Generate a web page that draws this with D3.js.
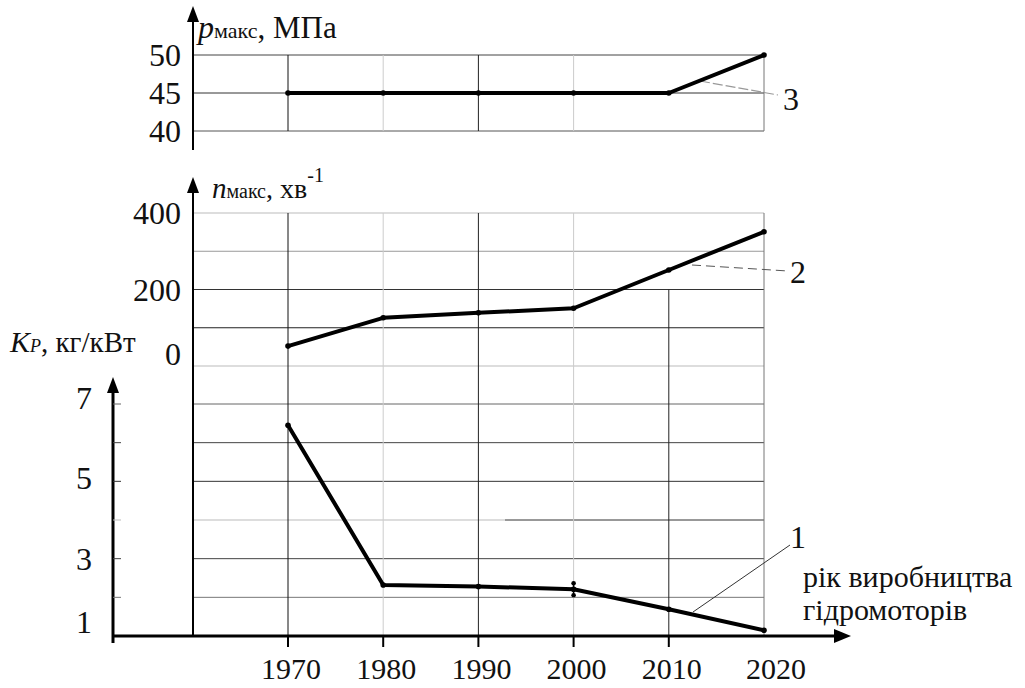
<!DOCTYPE html>
<html>
<head>
<meta charset="utf-8">
<script src="https://cdn.jsdelivr.net/npm/d3@7/dist/d3.min.js"></script>
<style>
  html, body { margin: 0; padding: 0; background: #fff; }
</style>
</head>
<body>
<svg id="chart" width="1025" height="688" font-family="'Liberation Serif', 'DejaVu Serif', serif"></svg>
<script>
// ---- data ----
const years = [1970, 1980, 1990, 2000, 2010, 2020];
const pValues = [45, 45, 45, 45, 45, 50];          // curve 3, p_max, MPa
const nValues = [52, 126, 139, 151, 251, 351];     // curve 2, n_max, min^-1
const kpValues = [6.45, 2.32, 2.28, 2.21, 1.69, 1.15]; // curve 1, Kp, kg/kW
const pTicks = [40, 45, 50];
const nTicks = [0, 200, 400];
const kpTicks = [1, 3, 5, 7];
const xTickLabels = ["1970", "1980", "1990", "2000", "2010", "2020"];
const pGrid = [40, 45, 50];
const nGrid = [0, 100, 200, 300, 400];
const kpGrid = [2, 3, 4, 5, 6, 7];

// ---- layout ----
const FONT = "Liberation Serif";
const svg = d3.select("#chart");
const axisX = 193, kpAxisX = 113, plotRight = 764, baseY = 636;

const x = d3.scaleLinear().domain([1970, 2020]).range([288, 764]);
const yP = d3.scaleLinear().domain([40, 50]).range([131, 55]);
const yN = d3.scaleLinear().domain([0, 400]).range([366, 213]);
const yK = d3.scaleLinear().domain([1, 7]).range([636, 404]);

// grid styles
const pGridColor = {40: "#555", 45: "#333", 50: "#444"};
const nGridColor = {0: "#bbb", 100: "#222", 200: "#333", 300: "#999", 400: "#bbb"};
const kGridColor = {2: "#777", 3: "#444", 4: "#bbb", 5: "#333", 6: "#444", 7: "#666"};
const vColor = {1970: "#111", 1980: "#ccc", 1990: "#222", 2000: "#ccc", 2010: "#222", 2020: "#777"};

const g = svg.append("g");

// top panel horizontal grid
g.selectAll(".pg").data(pGrid).join("line")
  .attr("x1", axisX).attr("x2", plotRight)
  .attr("y1", d => yP(d)).attr("y2", d => yP(d))
  .attr("stroke", d => pGridColor[d]).attr("stroke-width", 1);
// top panel vertical grid
g.selectAll(".pv").data(years.filter(d => d !== 2010)).join("line")
  .attr("x1", d => x(d)).attr("x2", d => x(d))
  .attr("y1", yP(50)).attr("y2", yP(40))
  .attr("stroke", d => vColor[d]).attr("stroke-width", 1);

// middle + bottom horizontal grid
g.selectAll(".ng").data(nGrid).join("line")
  .attr("x1", axisX).attr("x2", plotRight)
  .attr("y1", d => yN(d)).attr("y2", d => yN(d))
  .attr("stroke", d => nGridColor[d]).attr("stroke-width", 1);
g.selectAll(".kg").data(kpGrid).join("line")
  .attr("x1", axisX).attr("x2", plotRight)
  .attr("y1", d => yK(d)).attr("y2", d => yK(d))
  .attr("stroke", d => kGridColor[d]).attr("stroke-width", 1);
// darker part of the "4" gridline
g.append("line").attr("x1", 505).attr("x2", plotRight)
  .attr("y1", yK(4)).attr("y2", yK(4)).attr("stroke", "#555");

// middle + bottom vertical grid
g.selectAll(".nv").data(years).join("line")
  .attr("x1", d => x(d)).attr("x2", d => x(d))
  .attr("y1", d => d === 2010 ? yN(200) : yN(400)).attr("y2", baseY)
  .attr("stroke", d => vColor[d]).attr("stroke-width", 1);

// ---- axes ----
function arrowUp(cx, tipY) {
  svg.append("path")
    .attr("d", `M${cx},${tipY} L${cx - 6},${tipY + 16} L${cx + 6},${tipY + 16} Z`)
    .attr("fill", "#000");
}
// top y-axis
svg.append("line").attr("x1", axisX).attr("x2", axisX).attr("y1", 14).attr("y2", 150)
  .attr("stroke", "#000").attr("stroke-width", 2);
arrowUp(axisX, 6);
// middle y-axis
svg.append("line").attr("x1", axisX).attr("x2", axisX).attr("y1", 188).attr("y2", baseY)
  .attr("stroke", "#000").attr("stroke-width", 2);
arrowUp(axisX, 177);
// Kp y-axis
svg.append("line").attr("x1", kpAxisX).attr("x2", kpAxisX).attr("y1", 388).attr("y2", 643)
  .attr("stroke", "#000").attr("stroke-width", 3);
arrowUp(kpAxisX, 377);
// Kp small ticks
svg.selectAll(".kt").data(kpGrid).join("line")
  .attr("x1", kpAxisX).attr("x2", kpAxisX + 8)
  .attr("y1", d => yK(d)).attr("y2", d => yK(d))
  .attr("stroke", d => kGridColor[d]).attr("stroke-width", 1);

// x-axis
svg.append("line").attr("x1", kpAxisX).attr("x2", 836).attr("y1", baseY).attr("y2", baseY)
  .attr("stroke", "#000").attr("stroke-width", 3);
svg.append("path")
  .attr("d", `M851,${baseY} L834,${baseY - 7} L834,${baseY + 7} Z`).attr("fill", "#000");
svg.selectAll(".xt").data(years.filter(d => d < 2020)).join("line")
  .attr("x1", d => x(d)).attr("x2", d => x(d))
  .attr("y1", baseY).attr("y2", baseY + 11)
  .attr("stroke", "#000").attr("stroke-width", 2);

function txt(sel) {
  return sel.attr("font-family", FONT).attr("fill", "#111");
}
txt(svg.selectAll(".xl").data(xTickLabels).join("text"))
  .attr("x", (d, i) => x(years[i]) + (i === 5 ? 12 : 3))
  .attr("y", 679)
  .attr("text-anchor", "middle")
  .attr("font-size", 30)
  .text(d => d);

// y tick labels
txt(svg.selectAll(".pl").data(pTicks).join("text"))
  .attr("x", 181).attr("y", d => yP(d) + 11)
  .attr("text-anchor", "end").attr("font-size", 32).text(d => d);
txt(svg.selectAll(".nl").data(nTicks).join("text"))
  .attr("x", 181).attr("y", d => d === 0 ? yN(d) - 1 : yN(d) + 11)
  .attr("text-anchor", "end").attr("font-size", 32).text(d => d);
txt(svg.selectAll(".kl").data(kpTicks).join("text"))
  .attr("x", 92).attr("y", d => d === 1 ? yK(d) - 3 : yK(d) + 11 - (d - 3) * 1.5)
  .attr("text-anchor", "end").attr("font-size", 32).text(d => d);

// axis titles
const t1 = txt(svg.append("text")).attr("x", 198).attr("y", 38);
t1.append("tspan").attr("font-style", "italic").attr("font-size", 32).text("p");
t1.append("tspan").attr("font-size", 22).text("макс");
t1.append("tspan").attr("font-size", 31).text(", МПа");

const t2 = txt(svg.append("text")).attr("x", 212).attr("y", 198);
t2.append("tspan").attr("font-style", "italic").attr("font-size", 29).text("n");
t2.append("tspan").attr("font-size", 20).text("макс");
t2.append("tspan").attr("font-size", 28).text(", хв");
t2.append("tspan").attr("font-size", 20).attr("dy", -16).text("-1");

const t3 = txt(svg.append("text")).attr("x", 10).attr("y", 352);
t3.append("tspan").attr("font-style", "italic").attr("font-size", 30).text("K");
t3.append("tspan").attr("font-style", "italic").attr("font-size", 18).text("P");
t3.append("tspan").attr("font-size", 29).text(", кг/кВт");

// ---- leader lines & curve labels ----
svg.append("line").attr("x1", 700).attr("y1", 81).attr("x2", 778).attr("y2", 95)
  .attr("stroke", "#999").attr("stroke-width", 1.2).attr("stroke-dasharray", "10,3");
txt(svg.append("text")).attr("x", 783).attr("y", 110).attr("font-size", 32).text("3");

svg.append("line").attr("x1", 692).attr("y1", 265).attr("x2", 788).attr("y2", 271)
  .attr("stroke", "#555").attr("stroke-width", 1).attr("stroke-dasharray", "9,5");
txt(svg.append("text")).attr("x", 790).attr("y", 283).attr("font-size", 32).text("2");

svg.append("line").attr("x1", 693).attr("y1", 612).attr("x2", 790).attr("y2", 545)
  .attr("stroke", "#333").attr("stroke-width", 1);
txt(svg.append("text")).attr("x", 790).attr("y", 548).attr("font-size", 32).text("1");

txt(svg.append("text")).attr("x", 803).attr("y", 587).attr("font-size", 30).text("рік виробництва");
txt(svg.append("text")).attr("x", 803).attr("y", 620).attr("font-size", 30).text("гідромоторів");

// ---- curves ----
function drawCurve(vals, yScale) {
  const pts = years.map((yr, i) => [x(yr), yScale(vals[i])]);
  svg.append("path").datum(pts)
    .attr("d", d3.line())
    .attr("fill", "none").attr("stroke", "#000").attr("stroke-width", 4)
    .attr("stroke-linejoin", "round");
  svg.selectAll(null).data(pts).join("circle")
    .attr("cx", d => d[0]).attr("cy", d => d[1]).attr("r", 2.8).attr("fill", "#000");
}
drawCurve(pValues, yP);
drawCurve(nValues, yN);
drawCurve(kpValues, yK);

// small mark at 2000 on curve 1
const mx = x(2000), my = yK(kpValues[3]);
svg.append("line").attr("x1", mx).attr("x2", mx).attr("y1", my - 7).attr("y2", my + 7)
  .attr("stroke", "#000").attr("stroke-width", 1.5);
svg.append("circle").attr("cx", mx).attr("cy", my - 6).attr("r", 2.3).attr("fill", "#000");
svg.append("circle").attr("cx", mx).attr("cy", my + 6).attr("r", 2.3).attr("fill", "#000");
</script>
</body>
</html>
